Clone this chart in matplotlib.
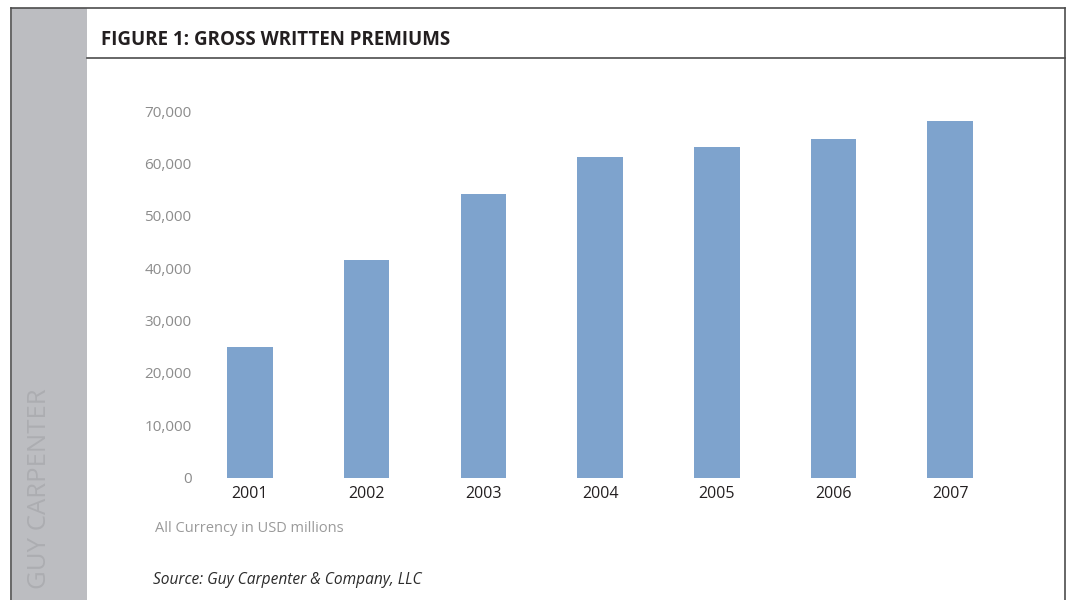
import matplotlib.pyplot as plt
from matplotlib.patches import Rectangle
from matplotlib.lines import Line2D

# Gross written premiums by year (USD millions)
years = ["2001", "2002", "2003", "2004", "2005", "2006", "2007"]
premiums = [25000, 41500, 54200, 61300, 63100, 64700, 68100]
y_ticks = [0, 10000, 20000, 30000, 40000, 50000, 60000, 70000]
y_tick_labels = [f"{v:,}" for v in y_ticks]

W, H = 1070, 600
plt.rcParams["font.family"] = ["Open Sans", "DejaVu Sans"]

fig = plt.figure(figsize=(W / 100, H / 100), dpi=100)


def fx(px):
    return px / W


def fy(py):
    return 1 - py / H


# grey band down the left side
fig.patches.append(Rectangle((fx(12), 0), fx(87) - fx(12), fy(8),
                             transform=fig.transFigure,
                             facecolor="#bcbdc1", edgecolor="none", zorder=0))

# frame lines
frame_color = "#4d4d4d"
for xs, ys in [
    ([fx(11), fx(11)], [0, fy(8)]),
    ([fx(11), fx(1065)], [fy(8), fy(8)]),
    ([fx(1065), fx(1065)], [0, fy(8)]),
    ([fx(87), fx(1065)], [fy(58), fy(58)]),
]:
    fig.add_artist(Line2D(xs, ys, transform=fig.transFigure,
                          color=frame_color, lw=1.2))

fig.text(fx(101), fy(40), "FIGURE 1: GROSS WRITTEN PREMIUMS",
         fontsize=13.5, fontweight="bold", color="#231f20", va="center")

fig.text(fx(40), fy(589), "GUY CARPENTER", rotation=90, fontsize=18.5,
         color="#acadb1", ha="center", va="bottom")

# chart area
ax = fig.add_axes([fx(200), fy(477.7), fx(1000) - fx(200), fy(111) - fy(477.7)])
x = list(range(len(years)))
ax.bar(x, premiums, width=0.39, color="#7ea3cd", edgecolor="none")
ax.set_xlim(-0.428, 6.427)
ax.set_ylim(0, 70000)
ax.set_xticks(x)
ax.set_xticklabels(years, fontsize=11.5, color="#231f20")
ax.set_yticks(y_ticks)
ax.set_yticklabels(y_tick_labels, fontsize=11, color="#8c8c8c")
ax.tick_params(axis="both", length=0)
ax.tick_params(axis="y", pad=6)
ax.tick_params(axis="x", pad=6)
for s in ax.spines.values():
    s.set_visible(False)

fig.text(fx(155), fy(528), "All Currency in USD millions",
         fontsize=10.5, color="#9a9a9a", va="center")
fig.text(fx(153), fy(580), "Source: Guy Carpenter & Company, LLC",
         fontsize=11.2, style="italic", color="#2b2b2b", va="center")

fig.savefig("out.png", dpi=100)
